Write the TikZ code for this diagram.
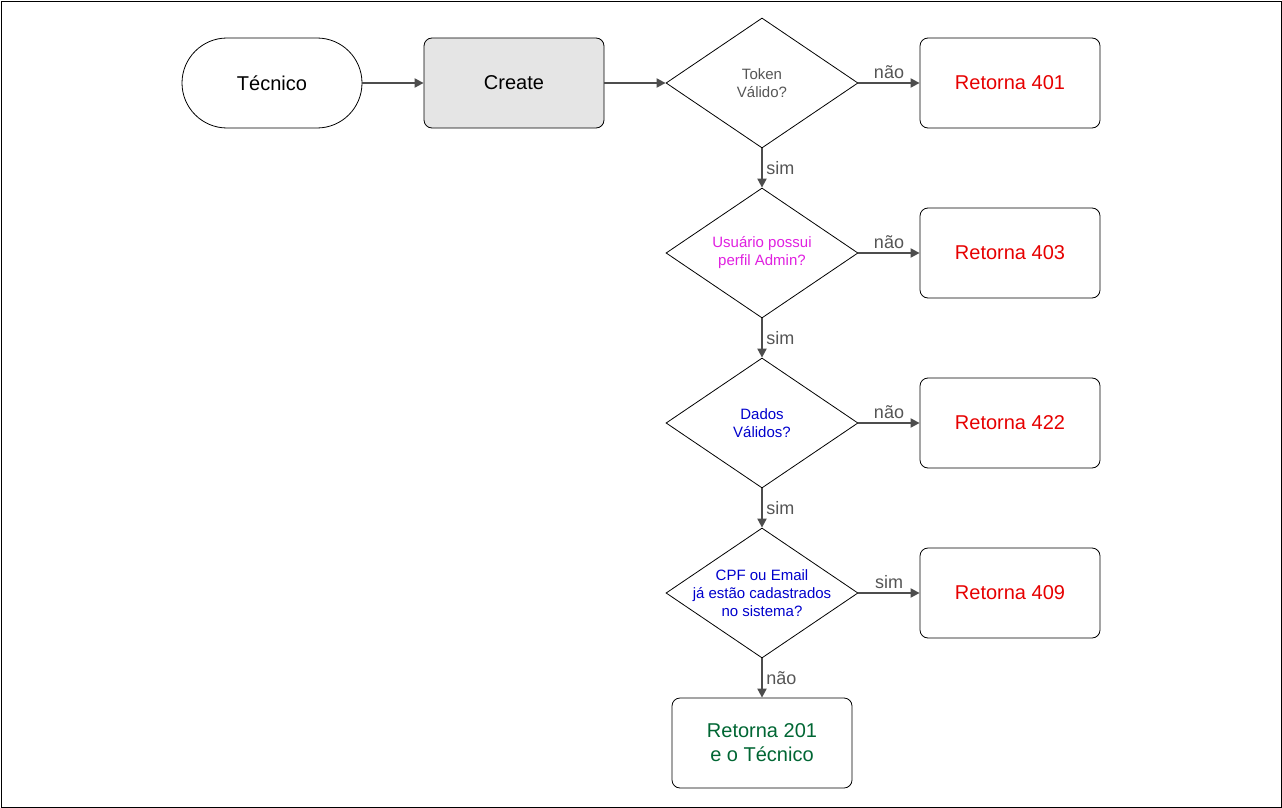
\documentclass[tikz,border=0pt]{standalone}
\usepackage{fontspec}
\setmainfont{Liberation Sans}
\usetikzlibrary{shapes.geometric,arrows.meta}
\definecolor{ln}{HTML}{4D4D4D}
\definecolor{lab}{HTML}{555555}
\definecolor{rd}{HTML}{E60000}
\definecolor{mg}{HTML}{E020E0}
\definecolor{bl}{HTML}{0000CC}
\definecolor{gr}{HTML}{006633}
\begin{document}
\begin{tikzpicture}[x=1pt,y=-1pt,
 box/.style={draw=black,line width=0.8pt,rounded corners=8pt,minimum width=180pt,minimum height=90pt,font=\fontsize{20}{24}\selectfont,align=center},
 dia/.style={draw=black,line width=0.8pt,diamond,minimum width=192pt,minimum height=130pt,inner sep=0pt},
 dt/.style={font=\fontsize{15}{18}\selectfont,align=center},
 ar/.style={draw=ln,line width=2pt,-{Triangle[length=9pt,width=9pt]}},
 el/.style={font=\fontsize{18}{21}\selectfont,text=lab}]
\useasboundingbox (0,0) rectangle (1282,808);
\draw[line width=0.8pt] (1,1) rectangle (1281,807);
\node[box,rounded corners=45pt] (tec) at (272,83) {Técnico};
\node[box,fill=black!10] (cr) at (514,83) {Create};
\node[dia] (d1) at (762,83) {};
\node[dt,text=lab] at (d1) {Token\\Válido?};
\node[dia] (d2) at (762,253) {};
\node[dt,text=mg] at (d2) {Usuário possui\\perfil Admin?};
\node[dia] (d3) at (762,423) {};
\node[dt,text=bl] at (d3) {Dados\\Válidos?};
\node[dia] (d4) at (762,593) {};
\node[dt,text=bl] at (d4) {CPF ou Email\\já estão cadastrados\\no sistema?};
\node[box,text=rd] (r1) at (1010,83) {Retorna 401};
\node[box,text=rd] (r2) at (1010,253) {Retorna 403};
\node[box,text=rd] (r3) at (1010,423) {Retorna 422};
\node[box,text=rd] (r4) at (1010,593) {Retorna 409};
\node[box,text=gr] (r5) at (762,743) {Retorna 201\\e o Técnico};
\draw[ar] (tec) -- (cr);
\draw[ar] (cr) -- (d1);
\draw[ar] (d1) -- node[el,above]{não} (r1);
\draw[ar] (d2) -- node[el,above]{não} (r2);
\draw[ar] (d3) -- node[el,above]{não} (r3);
\draw[ar] (d4) -- node[el,above]{sim} (r4);
\draw[ar] (d1) -- node[el,right]{sim} (d2);
\draw[ar] (d2) -- node[el,right]{sim} (d3);
\draw[ar] (d3) -- node[el,right]{sim} (d4);
\draw[ar] (d4) -- node[el,right]{não} (r5);
\end{tikzpicture}
\end{document}
